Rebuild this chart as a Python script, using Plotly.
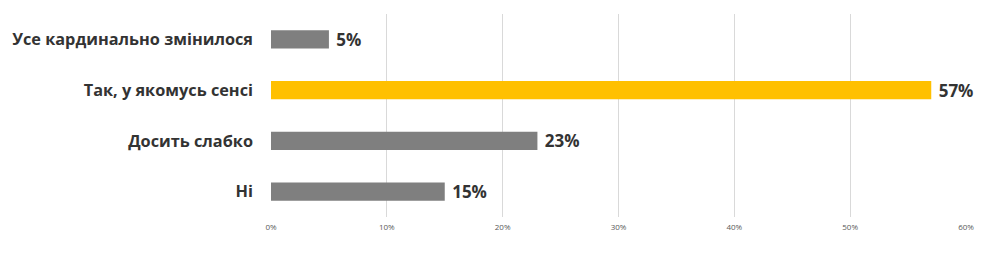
import plotly.graph_objects as go

categories = ["Усе кардинально змінилося", "Так, у якомусь сенсі", "Досить слабко", "Ні"]
values = [5, 57, 23, 15]
colors = ["#7F7F7F", "#FFC000", "#7F7F7F", "#7F7F7F"]
tick_vals = [0, 10, 20, 30, 40, 50, 60]
tick_text = ["0%", "10%", "20%", "30%", "40%", "50%", "60%"]

fig = go.Figure(go.Bar(
    y=categories,
    x=values,
    orientation="h",
    marker=dict(color=colors, line=dict(width=0)),
    text=[f" {v}%" for v in values],
    textposition="outside",
    constraintext="none",
    textfont=dict(family="Open Sans", size=17, color="#333333", weight="bold"),
    cliponaxis=False,
    width=0.36,
))

fig.update_layout(
    width=1000, height=258,
    margin=dict(l=271, r=34, t=14, b=41),
    paper_bgcolor="white", plot_bgcolor="white",
    showlegend=False,
    xaxis=dict(
        range=[0, 60], tickvals=tick_vals, ticktext=tick_text,
        showgrid=True, gridcolor="#D9D9D9", gridwidth=1,
        zeroline=False, showline=False,
        tickfont=dict(family="Open Sans", size=8, color="#595959"),
        ticklabelstandoff=4,
    ),
    yaxis=dict(
        categoryorder="array", categoryarray=categories[::-1],
        showgrid=False, zeroline=False, showline=False,
        tickfont=dict(family="Open Sans", size=16.3, color="#333333", weight="bold"),
        ticklabelstandoff=17,
    ),
)

fig.write_html("out.html")
